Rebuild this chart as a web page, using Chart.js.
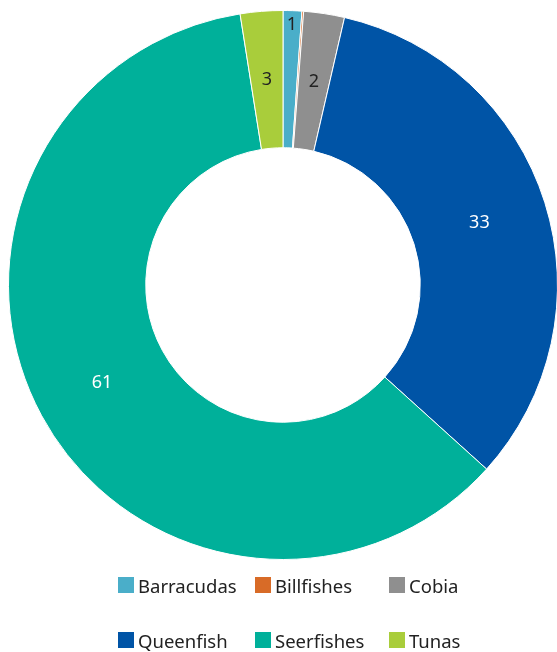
<!DOCTYPE html>
<html>
<head>
<meta charset="utf-8">
<script src="https://cdn.jsdelivr.net/npm/chart.js@4/dist/chart.umd.min.js"></script>
<style>
  html, body { margin: 0; padding: 0; background: #fff; overflow: hidden; }
  #wrap { position: relative; width: 557px; height: 652px; overflow: hidden; }
  #chartBox { position: absolute; left: 0; top: 0; width: 566px; height: 568px; }
  #legend { position: absolute; left: 0; top: 0; width: 557px; height: 652px; pointer-events: none;
            font-family: "Noto Sans", "Open Sans", sans-serif; font-size: 18.5px; color: #222; }
  .item { position: absolute; display: flex; align-items: center; height: 20px; }
  .box { width: 16px; height: 16px; margin-right: 4px; }
</style>
</head>
<body>
<div id="wrap">
  <div id="chartBox"><canvas id="fishChart"></canvas></div>
  <div id="legend"></div>
</div>
<script>
// data (percent share)
const species = ["Barracudas", "Billfishes", "Cobia", "Queenfish", "Seerfishes", "Tunas"];
const shares = [1.1, 0.1, 2.4, 33.1, 60.8, 2.5];
const sliceColors = ["#4aaec9", "#d86b27", "#8f8f8f", "#0054a6", "#00b09a", "#a9cd3b"];
const labelColors = ["#222222", "#222222", "#222222", "#ffffff", "#ffffff", "#222222"];

// draws the rounded value labels on the slices (zero is left out)
const sliceLabels = {
  id: 'sliceLabels',
  afterDatasetsDraw(chart) {
    const c = chart.ctx;
    const arcs = chart.getDatasetMeta(0).data;
    c.save();
    c.font = '18px "Noto Sans", "Open Sans", sans-serif';
    c.textAlign = 'center';
    c.textBaseline = 'middle';
    arcs.forEach((arc, i) => {
      const txt = Math.round(shares[i]);
      if (txt === 0) return;
      const mid = (arc.startAngle + arc.endAngle) / 2;
      let r = (arc.innerRadius + arc.outerRadius) / 2;
      if (shares[i] < 1.5) r = arc.outerRadius - 14;   // tiny slice: push label out
      const x = arc.x + Math.cos(mid) * r;
      const y = arc.y + Math.sin(mid) * r;
      c.fillStyle = labelColors[i];
      c.fillText(String(txt), x, y);
    });
    c.restore();
  }
};

const ctx = document.getElementById('fishChart').getContext('2d');
const fishChart = new Chart(ctx, {
  type: 'doughnut',
  data: {
    labels: species,
    datasets: [{
      data: shares,
      backgroundColor: sliceColors,
      borderColor: '#ffffff',
      borderWidth: 1
    }]
  },
  options: {
    responsive: true,
    maintainAspectRatio: false,
    animation: false,
    cutout: '50%',
    layout: { padding: { left: 8, top: 9, right: 8, bottom: 7 } },
    plugins: {
      legend: { display: false },
      tooltip: { enabled: false }
    }
  },
  plugins: [sliceLabels]
});

// legend laid out in two rows of three like the original
const legendEl = document.getElementById('legend');
const colX = [118, 255, 389];
const rowY = [575, 630];
species.forEach((name, i) => {
  const item = document.createElement('div');
  item.className = 'item';
  item.style.left = colX[i % 3] + 'px';
  item.style.top = rowY[Math.floor(i / 3)] + 'px';
  item.innerHTML = '<div class="box" style="background:' + sliceColors[i] + '"></div><span>' + name + '</span>';
  legendEl.appendChild(item);
});
</script>
</body>
</html>
